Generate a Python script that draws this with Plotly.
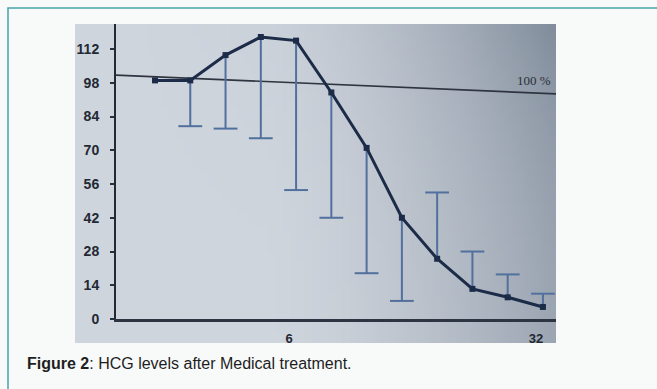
import base64
import struct
import zlib

import plotly.graph_objects as go

# ---------------- data ----------------
x_pos = [1, 2, 3, 4, 5, 6, 7, 8, 9, 10, 11, 12]
mean_pct = [99, 99, 109.5, 117, 115.5, 94, 71, 42, 25, 12.5, 9, 5]
err_low_end = [None, 80, 79, 75, 53.5, 42, 19, 7.5, None, None, None, None]
err_high_end = [None, None, None, None, None, None, None, None, 52.5, 28, 18.5, 10.5]
y_tick_vals = [0, 14, 28, 42, 56, 70, 84, 98, 112]
x_tick_vals = [4.8, 11.8]
x_tick_text = ["6", "32"]
ref_level_start = 101.2   # the "100 %" line as photographed (slightly tilted)
ref_level_end = 93.4
ref_label = "100 %"
caption_bold = "Figure 2"
caption_rest = ": HCG levels after Medical treatment."

# ---------------- photo-like background (small gradient PNG) ----------------
def _png_data_uri(w, h, fn):
    raw = bytearray()
    for j in range(h):
        raw.append(0)
        for i in range(w):
            raw.extend(fn(i / (w - 1), j / (h - 1)))
    def chunk(tag, data):
        c = struct.pack(">I", len(data)) + tag + data
        return c + struct.pack(">I", zlib.crc32(tag + data) & 0xFFFFFFFF)
    png = b"\x89PNG\r\n\x1a\n"
    png += chunk(b"IHDR", struct.pack(">IIBBBBB", w, h, 8, 2, 0, 0, 0))
    png += chunk(b"IDAT", zlib.compress(bytes(raw), 9))
    png += chunk(b"IEND", b"")
    return "data:image/png;base64," + base64.b64encode(png).decode()


def _photo_col(u, v):
    light = (207, 213, 221)
    dark = (122, 134, 150)
    t = 0.6 * max(0.0, (u - 0.4) / 0.6) ** 1.5 + 0.3 * (1 - v) ** 2 * u ** 2
    t = min(1.0, t)
    return bytes(int(round(a + (b - a) * t)) for a, b in zip(light, dark))


photo_uri = _png_data_uri(64, 48, _photo_col)

# ---------------- figure ----------------
line_col = "#1c2b48"
err_col = "#52709d"

fig = go.Figure()

# whiskers
wx, wy, cx, cy = [], [], [], []
for xv, m, lo, hi in zip(x_pos, mean_pct, err_low_end, err_high_end):
    for end in (lo, hi):
        if end is not None:
            wx += [xv, xv, None]
            wy += [m, end, None]
            cx.append(xv)
            cy.append(end)

fig.add_trace(go.Scatter(x=wx, y=wy, mode="lines",
                         line=dict(color=err_col, width=2),
                         hoverinfo="skip", showlegend=False))
fig.add_trace(go.Scatter(x=cx, y=cy, mode="markers",
                         marker=dict(symbol="line-ew", size=17,
                                     line=dict(color=err_col, width=2)),
                         hoverinfo="skip", showlegend=False))

# main line
fig.add_trace(go.Scatter(x=x_pos, y=mean_pct, mode="lines+markers",
                         line=dict(color=line_col, width=3),
                         marker=dict(symbol="square", size=6, color=line_col),
                         showlegend=False))

W, H = 657, 389
ml, mr, mt, mb = 116, 101, 24, 70
pw, ph = W - ml - mr, H - mt - mb


def px_x(p):
    return (p - ml) / pw


def px_y(p):
    return (H - mb - p) / ph


fig.update_layout(
    width=W, height=H,
    margin=dict(l=ml, r=mr, t=mt, b=mb, pad=0),
    paper_bgcolor="#f8fafa",
    plot_bgcolor="rgba(0,0,0,0)",
    font=dict(family="Liberation Sans, Arial, sans-serif", color="#1f2430"),
    xaxis=dict(range=[-0.106, 12.37], showgrid=False, zeroline=False,
               showline=True, linecolor="#2e3542", linewidth=2.5,
               ticks="", tickvals=x_tick_vals, ticktext=x_tick_text,
               tickfont=dict(size=13, weight="bold", color="#232833"),
               ticklabelstandoff=6, fixedrange=True),
    yaxis=dict(range=[0, 122.4], showgrid=False, zeroline=False,
               showline=True, linecolor="#232a36", linewidth=2,
               ticks="outside", ticklen=4, tickwidth=1.5, tickcolor="#2a3038",
               tickvals=y_tick_vals,
               tickfont=dict(size=14, weight="bold", color="#232833"),
               ticklabelstandoff=8, fixedrange=True),
    images=[dict(source=photo_uri, xref="paper", yref="paper",
                 x=px_x(75), y=px_y(24), sizex=px_x(556) - px_x(75),
                 sizey=px_y(24) - px_y(343), xanchor="left", yanchor="top",
                 sizing="stretch", layer="below")],
    shapes=[
        dict(type="line", xref="paper", yref="y", x0=0, x1=1,
             y0=ref_level_start, y1=ref_level_end,
             line=dict(color="#2f3540", width=1.7), layer="below"),
        dict(type="rect", xref="paper", yref="paper",
             x0=px_x(8), x1=px_x(680), y0=px_y(8), y1=px_y(420),
             line=dict(color="#47a2aa", width=1.5), fillcolor="rgba(0,0,0,0)"),
    ],
    annotations=[
        dict(text=ref_label, xref="paper", yref="y", x=1, y=98.8,
             xanchor="right", yanchor="middle", xshift=-3, showarrow=False,
             font=dict(family="Liberation Serif, serif", size=13, color="#2a2f38")),
        dict(text="<b>" + caption_bold + "</b>" + caption_rest,
             xref="paper", yref="paper", x=px_x(25), y=px_y(363),
             xanchor="left", yanchor="middle", showarrow=False,
             font=dict(family="Liberation Sans, Arial, sans-serif", size=16,
                       color="#1e1e1e")),
    ],
)

fig.write_html(
    "out.html",
    config={"displayModeBar": False},
    post_script="document.body.style.margin='0';document.body.style.overflow='hidden';",
)
